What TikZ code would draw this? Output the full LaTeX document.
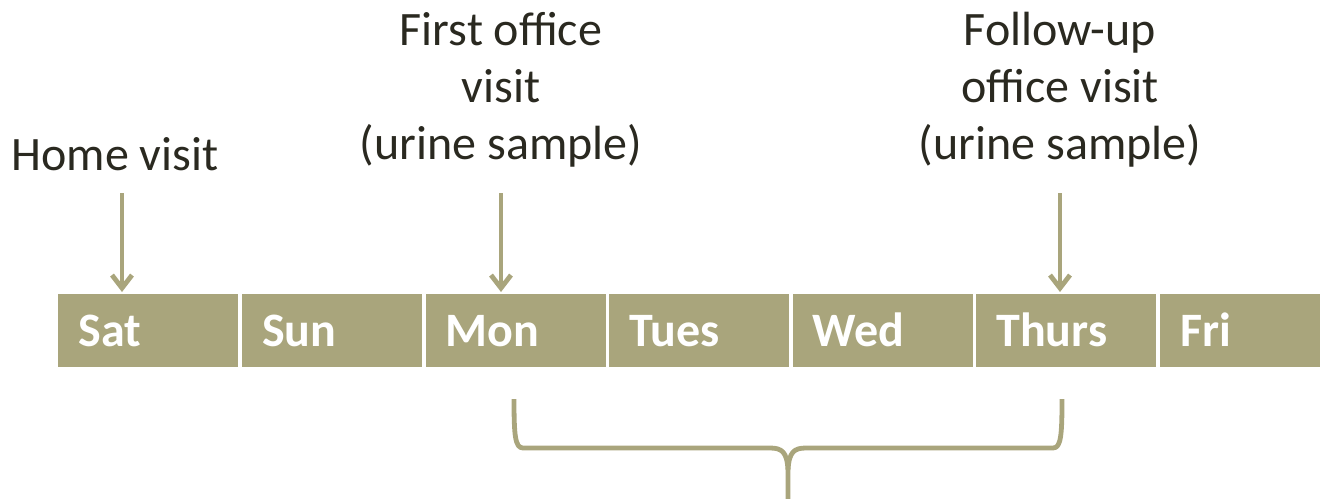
\documentclass[tikz,border=0pt]{standalone}
\usepackage{fontspec}
\setmainfont{Carlito}
\usepackage{xcolor}
\usepackage{tikz}
\usetikzlibrary{arrows.meta,positioning}

\definecolor{oliveBar}{HTML}{A9A57C}
\definecolor{inkText}{HTML}{2A2920}

\tikzset{
  daybox/.style={fill=oliveBar,text=white,font=\fontsize{24}{28}\selectfont\bfseries,
    text width=70pt,align=left,inner xsep=10pt,inner ysep=0pt,
    minimum height=36.5pt,text height=0.63em+9pt,text depth=0pt},
  visitlabel/.style={text=inkText,font=\fontsize{24}{28.5}\selectfont,align=center,inner sep=0pt},
  visitarrow/.style={draw=oliveBar,line width=2.4pt,-{Straight Barb[length=6.5pt,width=10pt]},shorten >=1pt},
  bracestroke/.style={draw=oliveBar,line width=2.4pt,line join=round}
}

\begin{document}
\begin{tikzpicture}[x=0.5pt,y=-0.5pt]
    \useasboundingbox (0,0) rectangle (1320,498);
    % the week
    \node[daybox,anchor=north west] (sat) at (58,294) {Sat};
    \node[daybox,right=1.4pt of sat] (sun) {Sun};
    \node[daybox,right=1.4pt of sun] (mon) {Mon};
    \node[daybox,right=1.4pt of mon] (tues) {Tues};
    \node[daybox,right=1.4pt of tues] (wed) {Wed};
    \node[daybox,right=1.4pt of wed] (thurs) {Thurs};
    \node[daybox,right=1.4pt of thurs] (fri) {Fri};
    % visits
    \node[visitlabel,anchor=base] (home) at (115,170) {Home visit};
    \node[visitlabel,anchor=north] (first) at (501,12) {First office\\visit\\(urine sample)};
    \node[visitlabel,anchor=north] (follow) at (1060,12) {Follow-up\\office visit\\(urine sample)};
    \path (122,193) coordinate (tipHome) (501,193) coordinate (tipFirst) (1060,193) coordinate (tipFollow);
    \draw[visitarrow] (tipHome) -- (tipHome |- sat.north);
    \draw[visitarrow] (tipFirst) -- (tipFirst |- mon.north);
    \draw[visitarrow] (tipFollow) -- (tipFollow |- thurs.north);
    % brace under Mon..Thurs
    \draw[bracestroke] (514,399) .. controls (514,435) and (515,448) .. (523,448) -- (770,448)
      .. controls (782,448) and (787,452) .. (788,470) -- (788,500);
    \draw[bracestroke] (1062,399) .. controls (1062,435) and (1061,448) .. (1053,448) -- (806,448)
      .. controls (794,448) and (789,452) .. (788,470);
\end{tikzpicture}
\end{document}
